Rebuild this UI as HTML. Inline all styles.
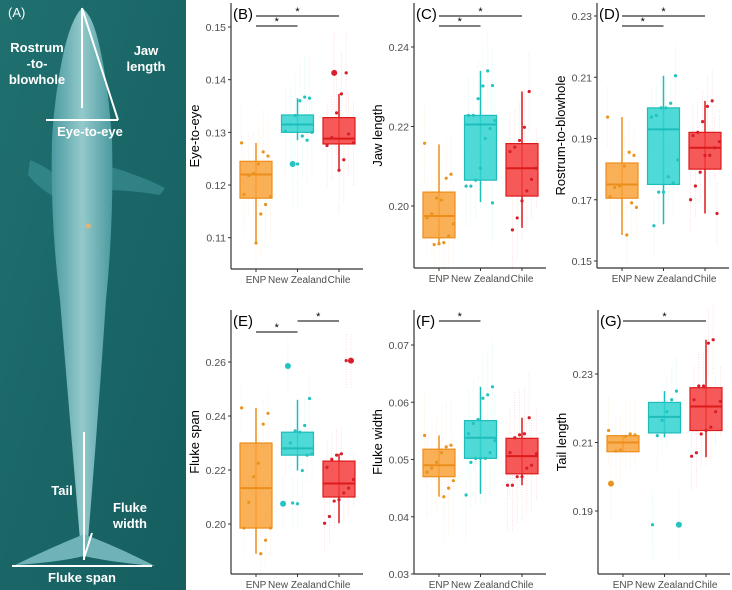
<!DOCTYPE html>
<html><head><meta charset="utf-8">
<style>
html,body{margin:0;padding:0;background:#fff;}
svg{display:block;font-family:"Liberation Sans",sans-serif;}
</style></head>
<body>
<svg id="fig" width="732" height="590" viewBox="0 0 732 590">
<defs>
<linearGradient id="water" x1="0" y1="0" x2="1" y2="1">
<stop offset="0" stop-color="#207070"/><stop offset="0.5" stop-color="#1a6667"/><stop offset="1" stop-color="#165e60"/>
</linearGradient>
<linearGradient id="body" x1="0" y1="0" x2="1" y2="0">
<stop offset="0" stop-color="#4a9a9f"/><stop offset="0.5" stop-color="#94c9cb"/><stop offset="1" stop-color="#4a9a9f"/>
</linearGradient>
</defs>
<g>
<rect x="0" y="0" width="186" height="590" fill="url(#water)"/>
<path d="M30,160 Q55,170 64,185 L60,200 Q40,190 28,175 Z" fill="#3f9598" opacity="0.6"/>
<path d="M104,165 Q140,175 165,188 L160,195 Q130,190 104,190 Z" fill="#3f9598" opacity="0.6"/>
<path d="M82,8 Q70,20 62,60 Q54,100 52,140 Q50,220 60,300 Q70,420 80,540 L88,540 Q98,420 106,300 Q114,220 112,140 Q108,80 98,40 Q92,15 82,8 Z" fill="url(#body)"/>
<path d="M82,535 Q50,548 15,565 Q60,562 84,556 Q110,562 155,566 Q120,548 86,535 Z" fill="#6fb3b6"/>
<ellipse cx="88" cy="226" rx="3" ry="2.5" fill="#d9b680"/>
<g stroke="#fff" stroke-width="2" fill="none">
<line x1="82" y1="8" x2="82" y2="108"/>
<line x1="82" y1="8" x2="118" y2="120"/>
<line x1="46" y1="120" x2="118" y2="120"/>
<line x1="84" y1="432" x2="84" y2="560"/>
<line x1="84" y1="558" x2="92" y2="533"/>
<line x1="12" y1="566" x2="152" y2="566"/>
</g>
<g fill="#fff" font-weight="bold" font-size="13" text-anchor="middle">
<text x="8" y="17" font-weight="normal" text-anchor="start" font-size="13">(A)</text>
<text x="37" y="52"><tspan x="37">Rostrum</tspan><tspan x="37" dy="16">-to-</tspan><tspan x="37" dy="16">blowhole</tspan></text>
<text x="146" y="55"><tspan x="146">Jaw</tspan><tspan x="146" dy="16">length</tspan></text>
<text x="90" y="136">Eye-to-eye</text>
<text x="62" y="495">Tail</text>
<text x="130" y="512"><tspan x="130">Fluke</tspan><tspan x="130" dy="16">width</tspan></text>
<text x="82" y="582">Fluke span</text>
</g>
</g>
</svg>
<script>
const categories=["ENP","New Zealand","Chile"];
// Panel B: Eye-to-eye
const ticksB=[0.11,0.12,0.13,0.14,0.15];
const q1B=[0.1175,0.1300,0.1278];const medB=[0.1220,0.1315,0.1288];const q3B=[0.1245,0.1333,0.1328];
const loB=[0.1090,0.1285,0.1228];const hiB=[0.1280,0.1365,0.1373];
const ptsB=[[0.128,0.1255,0.1263,0.124,0.1222,0.1218,0.1182,0.1178,0.1163,0.1145,0.109],[0.1365,0.1367,0.1360,0.1332,0.1315,0.1302,0.1300,0.1285,0.1293,0.124],[0.1413,0.1373,0.1337,0.1290,0.1275,0.1280,0.1297,0.1248,0.1228]];
const bigB=[[],[0.124],[0.1413]];
// Panel C: Jaw length
const ticksC=[0.20,0.22,0.24];
const q1C=[0.192,0.2065,0.2025];const medC=[0.1975,0.2205,0.2095];const q3C=[0.2035,0.2228,0.2157];
const loC=[0.1905,0.201,0.1945];const hiC=[0.2155,0.234,0.2288];
const ptsC=[[0.2158,0.208,0.207,0.2015,0.202,0.198,0.197,0.1955,0.1925,0.1908,0.1905,0.1903],[0.2303,0.234,0.2302,0.227,0.2228,0.2228,0.2215,0.2195,0.217,0.2095,0.2065,0.205,0.205,0.2008],[0.2288,0.2198,0.2165,0.2148,0.2137,0.2095,0.2067,0.2038,0.2013,0.197,0.194]];
const bigC=[[],[],[]];
// Panel D: Rostrum-to-blowhole
const ticksD=[0.15,0.17,0.19,0.21,0.23];
const q1D=[0.1705,0.175,0.180];const medD=[0.175,0.193,0.187];const q3D=[0.182,0.200,0.192];
const loD=[0.1585,0.162,0.1655];const hiD=[0.197,0.2105,0.2023];
const ptsD=[[0.197,0.1845,0.1855,0.181,0.1745,0.174,0.171,0.1675,0.169,0.1585],[0.2105,0.2015,0.200,0.200,0.1975,0.197,0.183,0.1755,0.1775,0.1725,0.1725,0.1615],[0.2023,0.2005,0.1955,0.192,0.191,0.189,0.187,0.1845,0.1845,0.179,0.1745,0.170,0.1655]];
const bigD=[[],[],[]];
// Panel E: Fluke span
const ticksE=[0.20,0.22,0.24,0.26];
const q1E=[0.1985,0.2255,0.210];const medE=[0.2133,0.228,0.215];const q3E=[0.230,0.234,0.2233];
const loE=[0.189,0.2198,0.2003];const hiE=[0.243,0.246,0.226];
const ptsE=[[0.243,0.241,0.237,0.2225,0.2175,0.208,0.1985,0.1985,0.194,0.189],[0.2465,0.2365,0.234,0.2345,0.23,0.228,0.226,0.2255,0.2198,0.2075,0.2078],[0.2605,0.226,0.2255,0.224,0.221,0.2165,0.2133,0.2115,0.209,0.2085,0.2028,0.2003]];
const bigE=[[],[0.2585,0.2075],[0.2605]];
// Panel F: Fluke width
const ticksF=[0.03,0.04,0.05,0.06,0.07];
const q1F=[0.047,0.0502,0.0475];const medF=[0.049,0.0538,0.0506];const q3F=[0.0518,0.0568,0.0537];
const loF=[0.0435,0.044,0.0455];const hiF=[0.0542,0.0627,0.0573];
const ptsF=[[0.0542,0.0525,0.0522,0.0512,0.0495,0.0485,0.0478,0.0463,0.045,0.0435],[0.0627,0.0613,0.0607,0.057,0.0563,0.0545,0.0533,0.0512,0.0502,0.0502,0.0502,0.0495,0.0438],[0.0573,0.0545,0.0543,0.0538,0.0512,0.051,0.049,0.0485,0.047,0.047,0.0455,0.0455]];
const bigF=[[],[],[]];
// Panel G: Tail length
const ticksG=[0.19,0.21,0.23];
const q1G=[0.2073,0.2128,0.2135];const medG=[0.210,0.2175,0.2205];const q3G=[0.212,0.2217,0.226];
const loG=[0.2073,0.2115,0.2057];const hiG=[0.212,0.225,0.240];
const ptsG=[[0.2135,0.2122,0.2125,0.2118,0.2078,0.2075],[0.225,0.2225,0.219,0.2165,0.212,0.186],[0.240,0.239,0.2265,0.2265,0.2225,0.222,0.219,0.2145,0.2135,0.2125,0.207,0.206]];
const bigG=[[0.198],[0.186],[]];

const NS="http://www.w3.org/2000/svg";
const svg=document.getElementById("fig");
const fills=["#f9a23a","#30d3d0","#f53c3c"];
const strokes=["#ec8e1c","#1dbdbb","#dc1a1a"];
const dots=["#e8941f","#22c3c1","#d81e2a"];
function mk(tag,attrs,parent){const e=document.createElementNS(NS,tag);for(const k in attrs)e.setAttribute(k,attrs[k]);(parent||svg).appendChild(e);return e;}

function panel(cfg){
  const g=mk("g",{});
  
  
  const y=v=>cfg.y1+(v-cfg.v1)*(cfg.y2-cfg.y1)/(cfg.v2-cfg.v1);
  const cx=i=>cfg.ax+25+i*41.5;
  cfg.ticks.forEach(t=>{
    mk("line",{x1:cfg.ax-3,x2:cfg.ax,y1:y(t),y2:y(t),stroke:"#333","stroke-width":1},g);
    const tx=mk("text",{x:cfg.ax-5,y:y(t)+4,"text-anchor":"end","font-size":10.5,fill:"#4d4d4d"},g);
    tx.textContent=t.toFixed(2);
    
    
  });
  for(let i=0;i<3;i++){
    const all=cfg.pts[i].map(v=>[v,1.6]).concat(cfg.big[i].map(v=>[v,3]));
    all.forEach((p,j)=>{
      const jx=cx(i)+(((j*37+i*11)%13)-6)*2.4;
      mk("line",{x1:jx,x2:jx,y1:y(p[0]-cfg.err),y2:y(p[0]+cfg.err),stroke:fills[i],"stroke-width":0.8,"stroke-dasharray":"1 1.5",opacity:0.2},g);
    });
  }
  for(let i=0;i<3;i++){
    const x=cx(i);
    const w=mk("line",{x1:x,x2:x,y1:y(cfg.lo[i]),y2:y(cfg.hi[i]),stroke:strokes[i],"stroke-width":1.5},g);
    
    
    const b=mk("rect",{x:x-16,width:32,y:y(cfg.q3[i]),height:y(cfg.q1[i])-y(cfg.q3[i]),fill:fills[i],"fill-opacity":0.85,stroke:strokes[i],"stroke-width":1.2},g);
    
    
    mk("line",{x1:x-16,x2:x+16,y1:y(cfg.med[i]),y2:y(cfg.med[i]),stroke:strokes[i],"stroke-width":2},g);
    const all=cfg.pts[i].map(v=>[v,1.6]).concat(cfg.big[i].map(v=>[v,3]));
    all.forEach((p,j)=>{
      const jx=cx(i)+(((j*37+i*11)%13)-6)*2.4;
      const c=mk("circle",{cx:jx,cy:y(p[0]),r:p[1],fill:dots[i]},g);
      
      
    });
  }
  mk("line",{x1:cfg.ax,x2:cfg.ax,y1:cfg.top,y2:cfg.bottom,stroke:"#333","stroke-width":1.2},g);
  mk("line",{x1:cfg.ax,x2:cfg.ax+132,y1:cfg.bottom,y2:cfg.bottom,stroke:"#333","stroke-width":1.2},g);
  categories.forEach((c,i)=>{
    mk("line",{x1:cx(i),x2:cx(i),y1:cfg.bottom,y2:cfg.bottom+3,stroke:"#333"},g);
    const t=mk("text",{x:cx(i),y:cfg.bottom+14,"text-anchor":"middle","font-size":10,fill:"#4d4d4d"},g);
    t.textContent=c;
    
    
  });
  const yt=mk("text",{x:0,y:0,"text-anchor":"middle","font-size":13,fill:"#000",transform:`translate(${cfg.ax-32},${(cfg.top+cfg.bottom)/2}) rotate(-90)`},g);
  yt.textContent=cfg.title;
  
  
  const pl=mk("text",{x:cfg.ax+2,y:cfg.top+16,"font-size":15,fill:"#000"},g);
  pl.textContent=cfg.label;
  
  
  cfg.sig.forEach(s=>{
    mk("line",{x1:cx(s[0]),x2:cx(s[1]),y1:s[2],y2:s[2],stroke:"#333","stroke-width":1.2},g);
    const st=mk("text",{x:(cx(s[0])+cx(s[1]))/2,y:s[2]-1,"text-anchor":"middle","font-size":11,fill:"#000"},g);
    st.textContent="*";
    
    
  });
}
panel({name:"panel-b-eye-to-eye",label:"(B)",title:"Eye-to-eye",ticks:ticksB,v1:0.15,y1:27,v2:0.11,y2:237.7,ax:231,top:3,bottom:269,err:0.008,q1:q1B,med:medB,q3:q3B,lo:loB,hi:hiB,pts:ptsB,big:bigB,sig:[[0,2,16],[0,1,26]]});
panel({name:"panel-c-jaw-length",label:"(C)",title:"Jaw length",ticks:ticksC,v1:0.24,y1:47,v2:0.20,y2:206,ax:414,top:3,bottom:268,err:0.01,q1:q1C,med:medC,q3:q3C,lo:loC,hi:hiC,pts:ptsC,big:bigC,sig:[[0,2,16],[0,1,26]]});
panel({name:"panel-d-rostrum-to-blowhole",label:"(D)",title:"Rostrum-to-blowhole",ticks:ticksD,v1:0.23,y1:16,v2:0.15,y2:261,ax:597,top:3,bottom:268,err:0.01,q1:q1D,med:medD,q3:q3D,lo:loD,hi:hiD,pts:ptsD,big:bigD,sig:[[0,2,16],[0,1,26]]});
panel({name:"panel-e-fluke-span",label:"(E)",title:"Fluke span",ticks:ticksE,v1:0.26,y1:362,v2:0.20,y2:524,ax:231,top:310,bottom:574,err:0.01,q1:q1E,med:medE,q3:q3E,lo:loE,hi:hiE,pts:ptsE,big:bigE,sig:[[0,1,332],[1,2,321]]});
panel({name:"panel-f-fluke-width",label:"(F)",title:"Fluke width",ticks:ticksF,v1:0.07,y1:345,v2:0.03,y2:574,ax:414,top:310,bottom:574,err:0.008,q1:q1F,med:medF,q3:q3F,lo:loF,hi:hiF,pts:ptsF,big:bigF,sig:[[0,1,321]]});
panel({name:"panel-g-tail-length",label:"(G)",title:"Tail length",ticks:ticksG,v1:0.23,y1:374,v2:0.19,y2:511,ax:598,top:310,bottom:574,err:0.01,q1:q1G,med:medG,q3:q3G,lo:loG,hi:hiG,pts:ptsG,big:bigG,sig:[[0,2,321]]});
</script>
</body></html>
